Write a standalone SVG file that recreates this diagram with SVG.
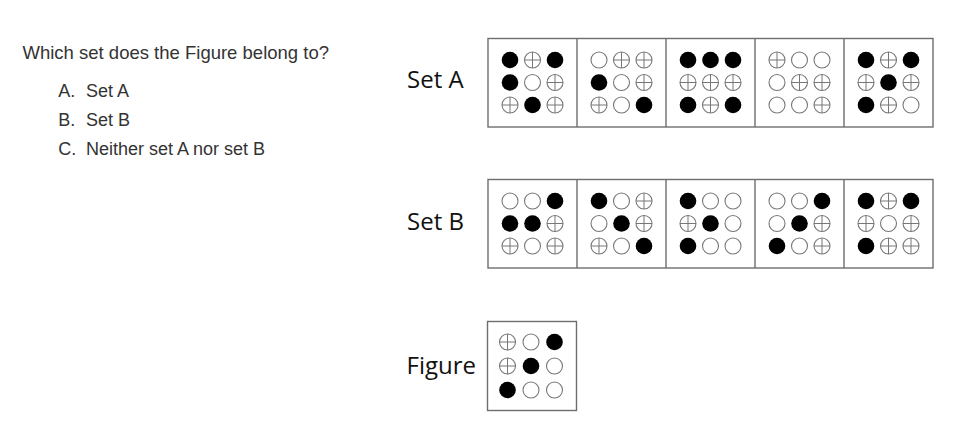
<svg xmlns="http://www.w3.org/2000/svg" xmlns:xlink="http://www.w3.org/1999/xlink" width="968" height="444" viewBox="0 0 968 444">
<style>
.q{font-family:"Liberation Sans",Arial,sans-serif;font-size:18.5px;fill:#333}
.o{font-family:"Liberation Sans",Arial,sans-serif;font-size:18px;fill:#333}
.lbl{font-family:"Open Sans","Noto Sans",sans-serif;font-size:24px;fill:#111}
.box{fill:#fff;stroke:#6e6e6e;stroke-width:1.4}
.div{stroke:#6e6e6e;stroke-width:1.4}
</style>
<defs>
<g id="B"><circle r="8.3" fill="#000"/></g>
<g id="O"><circle r="8" fill="#fff" stroke="#777" stroke-width="1.1"/></g>
<g id="X"><circle r="8" fill="#fff" stroke="#777" stroke-width="1.1"/><path d="M-8 0H8M0-8V8" stroke="#777" stroke-width="1"/></g>
</defs>
<rect width="968" height="444" fill="#fff"/>
<g id="question">
<text class="q" x="22.5" y="59">Which set does the Figure belong to?</text>
<text class="o" x="58.3" y="97">A.</text><text class="o" x="86" y="97">Set A</text>
<text class="o" x="58.3" y="126">B.</text><text class="o" x="86" y="126">Set B</text>
<text class="o" x="58.3" y="154.5">C.</text><text class="o" x="86" y="154.5">Neither set A nor set B</text>
</g>
<g id="setA">
<text class="lbl" x="407" y="88">Set A</text>
<rect class="box" x="488" y="38.5" width="445" height="88.5"/>
<path class="div" d="M577 38.5V127M666 38.5V127M755 38.5V127M844 38.5V127"/>
<g id="A1">
<use href="#B" x="510" y="60"/><use href="#X" x="532.5" y="60"/><use href="#B" x="555" y="60"/>
<use href="#B" x="510" y="82.5"/><use href="#O" x="532.5" y="82.5"/><use href="#X" x="555" y="82.5"/>
<use href="#X" x="510" y="105"/><use href="#B" x="532.5" y="105"/><use href="#X" x="555" y="105"/>
</g>
<g id="A2">
<use href="#O" x="599" y="60"/><use href="#X" x="621.5" y="60"/><use href="#X" x="644" y="60"/>
<use href="#B" x="599" y="82.5"/><use href="#O" x="621.5" y="82.5"/><use href="#X" x="644" y="82.5"/>
<use href="#X" x="599" y="105"/><use href="#O" x="621.5" y="105"/><use href="#B" x="644" y="105"/>
</g>
<g id="A3">
<use href="#B" x="688" y="60"/><use href="#B" x="710.5" y="60"/><use href="#B" x="733" y="60"/>
<use href="#X" x="688" y="82.5"/><use href="#X" x="710.5" y="82.5"/><use href="#X" x="733" y="82.5"/>
<use href="#B" x="688" y="105"/><use href="#X" x="710.5" y="105"/><use href="#B" x="733" y="105"/>
</g>
<g id="A4">
<use href="#X" x="777" y="60"/><use href="#O" x="799.5" y="60"/><use href="#O" x="822" y="60"/>
<use href="#O" x="777" y="82.5"/><use href="#X" x="799.5" y="82.5"/><use href="#X" x="822" y="82.5"/>
<use href="#O" x="777" y="105"/><use href="#O" x="799.5" y="105"/><use href="#X" x="822" y="105"/>
</g>
<g id="A5">
<use href="#B" x="866" y="60"/><use href="#X" x="888.5" y="60"/><use href="#B" x="911" y="60"/>
<use href="#X" x="866" y="82.5"/><use href="#B" x="888.5" y="82.5"/><use href="#X" x="911" y="82.5"/>
<use href="#B" x="866" y="105"/><use href="#X" x="888.5" y="105"/><use href="#O" x="911" y="105"/>
</g>
</g>
<g id="setB">
<text class="lbl" x="407" y="229.5">Set B</text>
<rect class="box" x="488" y="179.5" width="445" height="88.5"/>
<path class="div" d="M577 179.5V268M666 179.5V268M755 179.5V268M844 179.5V268"/>
<g id="B1">
<use href="#O" x="510" y="201"/><use href="#O" x="532.5" y="201"/><use href="#B" x="555" y="201"/>
<use href="#B" x="510" y="223.5"/><use href="#B" x="532.5" y="223.5"/><use href="#X" x="555" y="223.5"/>
<use href="#X" x="510" y="246"/><use href="#O" x="532.5" y="246"/><use href="#X" x="555" y="246"/>
</g>
<g id="B2">
<use href="#B" x="599" y="201"/><use href="#O" x="621.5" y="201"/><use href="#X" x="644" y="201"/>
<use href="#O" x="599" y="223.5"/><use href="#B" x="621.5" y="223.5"/><use href="#X" x="644" y="223.5"/>
<use href="#X" x="599" y="246"/><use href="#O" x="621.5" y="246"/><use href="#B" x="644" y="246"/>
</g>
<g id="B3">
<use href="#B" x="688" y="201"/><use href="#O" x="710.5" y="201"/><use href="#O" x="733" y="201"/>
<use href="#X" x="688" y="223.5"/><use href="#B" x="710.5" y="223.5"/><use href="#O" x="733" y="223.5"/>
<use href="#B" x="688" y="246"/><use href="#O" x="710.5" y="246"/><use href="#O" x="733" y="246"/>
</g>
<g id="B4">
<use href="#O" x="777" y="201"/><use href="#O" x="799.5" y="201"/><use href="#B" x="822" y="201"/>
<use href="#O" x="777" y="223.5"/><use href="#B" x="799.5" y="223.5"/><use href="#X" x="822" y="223.5"/>
<use href="#B" x="777" y="246"/><use href="#O" x="799.5" y="246"/><use href="#X" x="822" y="246"/>
</g>
<g id="B5">
<use href="#B" x="866" y="201"/><use href="#X" x="888.5" y="201"/><use href="#B" x="911" y="201"/>
<use href="#X" x="866" y="223.5"/><use href="#O" x="888.5" y="223.5"/><use href="#X" x="911" y="223.5"/>
<use href="#B" x="866" y="246"/><use href="#X" x="888.5" y="246"/><use href="#X" x="911" y="246"/>
</g>
</g>
<g id="figure">
<text class="lbl" x="406.5" y="374">Figure</text>
<rect class="box" x="487.5" y="321.5" width="89" height="89"/>
<use href="#X" x="507.5" y="342"/><use href="#O" x="531" y="342"/><use href="#B" x="554.5" y="342"/>
<use href="#X" x="507.5" y="366"/><use href="#B" x="531" y="366"/><use href="#O" x="554.5" y="366"/>
<use href="#B" x="507.5" y="390"/><use href="#O" x="531" y="390"/><use href="#O" x="554.5" y="390"/>
</g>
</svg>
